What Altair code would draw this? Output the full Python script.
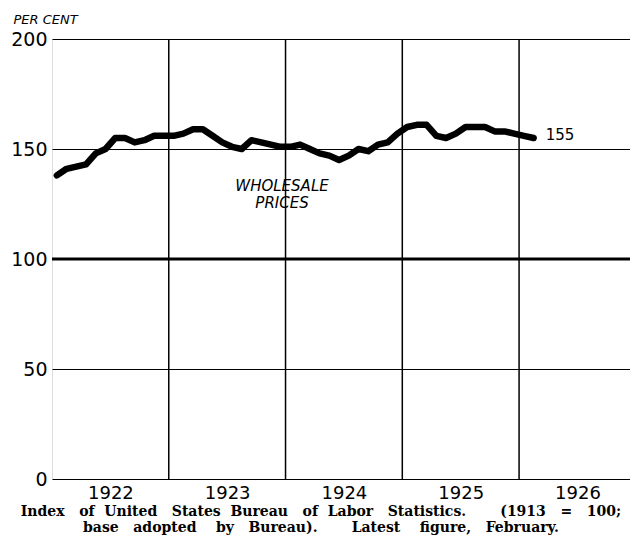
import altair as alt
import pandas as pd

months = [f"{y}-{m:02d}" for y in range(1922, 1926) for m in range(1, 13)] + ["1926-01", "1926-02"]
wpi = [138, 141, 142, 143, 148, 150, 155, 155, 153, 154, 156, 156,
       156, 157, 159, 159, 156, 153, 151, 150, 154, 153, 152, 151,
       151, 152, 150, 148, 147, 145, 147, 150, 149, 152, 153, 157,
       160, 161, 161, 156, 155, 157, 160, 160, 160, 158, 158, 157,
       156, 155]
year_lines = [1923, 1924, 1925, 1926]
year_label_pos = [1922.5, 1923.5, 1924.5, 1925.5, 1926.5]
y_ticks = [0, 50, 100, 150, 200]


def spaced(words, gaps):
    out = words[0]
    for w, g in zip(words[1:], gaps):
        out += "\u00a0" * g + w
    return out


caption = [
    spaced(["Index", "of", "United", "States", "Bureau", "of", "Labor", "Statistics.", "(1913", "=", "100;"],
           [3, 2, 3, 2, 3, 2, 3, 7, 3, 3]),
    spaced(["base", "adopted", "by", "Bureau).", "Latest", "figure,", "February."],
           [3, 4, 3, 7, 4, 3]),
]

df = pd.DataFrame({"month": months, "value": wpi})
df["t"] = [int(s[:4]) + (int(s[5:]) - 0.5) / 12 for s in months]

xscale = alt.Scale(domain=[1922, 1926.95], nice=False, zero=False)
yscale = alt.Scale(domain=[0, 200], nice=False)

base = alt.Chart(df)

line = base.mark_line(color="black", strokeWidth=6.5, strokeJoin="round", strokeCap="round").encode(
    x=alt.X("t:Q", scale=xscale,
            axis=alt.Axis(values=year_label_pos, labelExpr="floor(datum.value)", ticks=False,
                          domain=False, grid=False, title=None, labelFont="DejaVu Sans",
                          labelFontSize=18, labelColor="black", labelPadding=5, labelFontWeight="normal",
                          labelFlush=False)),
    y=alt.Y("value:Q", scale=yscale,
            axis=alt.Axis(values=y_ticks, ticks=False, domain=False, grid=True, gridColor="black",
                          gridWidth=1.2, gridOpacity=1, labelFont="DejaVu Sans", labelFontSize=19,
                          labelColor="black", labelPadding=5, labelFlush=False,
                          title="PER CENT", titleAngle=0, titleX=-39, titleY=-20,
                          titleAlign="left", titleBaseline="middle", titleFont="DejaVu Sans",
                          titleFontStyle="italic", titleFontWeight="normal", titleFontSize=13,
                          titleColor="black")),
)

vrules = alt.Chart(pd.DataFrame({"yr": year_lines})).mark_rule(color="black", strokeWidth=1.5).encode(
    x=alt.X("yr:Q", scale=xscale)
)

hundred = alt.Chart(pd.DataFrame({"v": [100]})).mark_rule(color="black", strokeWidth=3).encode(
    y=alt.Y("v:Q", scale=yscale)
)

last = df.tail(1)
endlabel = alt.Chart(last).mark_text(align="left", dx=12, dy=-3, fontSize=15, font="DejaVu Sans",
                                     color="black").encode(
    x=alt.X("t:Q", scale=xscale), y=alt.Y("value:Q", scale=yscale), text=alt.value("155")
)

label_df = pd.DataFrame({"t": [1923.97], "value": [133], "txt": ["WHOLESALE\nPRICES"]})
serieslabel = alt.Chart(label_df).mark_text(align="center", fontSize=15, font="DejaVu Sans",
                                            fontStyle="italic", color="black", lineBreak="\n",
                                            lineHeight=17).encode(
    x=alt.X("t:Q", scale=xscale), y=alt.Y("value:Q", scale=yscale), text="txt:N"
)

chart = alt.layer(vrules, hundred, line, endlabel, serieslabel).properties(
    width=578, height=440,
    autosize=alt.AutoSizeParams(type="none"),
    padding={"left": 44, "top": 31, "right": 0, "bottom": 57},
    title=alt.TitleParams(
        text=caption,
        orient="bottom", anchor="middle", font="DejaVu Serif", fontSize=14, fontWeight="bold",
        color="black", offset=3, dx=-20, lineHeight=15.5),
).configure_view(stroke="black", strokeWidth=2).configure(background="white")

chart.save("out.html", embed_options={"renderer": "svg", "actions": False})
